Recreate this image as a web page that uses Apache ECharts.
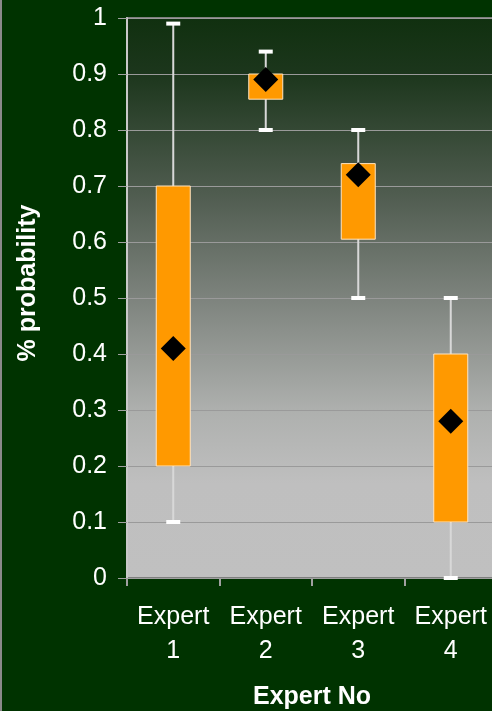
<!DOCTYPE html>
<html>
<head>
<meta charset="utf-8">
<script src="https://cdn.jsdelivr.net/npm/echarts@6/dist/echarts.min.js"></script>
<style>
  html, body { margin: 0; padding: 0; background: #003300; }
  #chart { width: 492px; height: 711px; }
</style>
</head>
<body>
<div id="chart"></div>
<script>
// Expert elicitation summary: whisker range, box range and mean per expert
const experts = ['Expert\n1', 'Expert\n2', 'Expert\n3', 'Expert\n4'];
const whiskerLow  = [0.10, 0.80, 0.50, 0.00];
const whiskerHigh = [0.99, 0.94, 0.80, 0.50];
const boxLow      = [0.20, 0.855, 0.605, 0.10];
const boxHigh     = [0.70, 0.90, 0.74, 0.40];
const meanValue   = [0.41, 0.89, 0.72, 0.28];

const rangeData = experts.map((_, i) => [i, whiskerLow[i], whiskerHigh[i], boxLow[i], boxHigh[i]]);
const meanData = experts.map((_, i) => [i, meanValue[i]]);

const FONT = 'Liberation Sans, Arial, sans-serif';

const chart = echarts.init(document.getElementById('chart'), null, { renderer: 'canvas' });

const plotFill = new echarts.graphic.LinearGradient(0, 0, 0, 1, [
  { offset: 0.0,   color: '#10300f' },
  { offset: 0.1,   color: '#1c361c' },
  { offset: 0.325, color: '#525e52' },
  { offset: 0.5,   color: '#7d837d' },
  { offset: 0.7,   color: '#aeb0ae' },
  { offset: 0.83,  color: '#bfbfbf' },
  { offset: 1.0,   color: '#c0c0c0' }
]);

function renderRange(params, api) {
  const x = api.value(0);
  const pLow = api.coord([x, api.value(1)]);
  const pHigh = api.coord([x, api.value(2)]);
  const pBoxLow = api.coord([x, api.value(3)]);
  const pBoxHigh = api.coord([x, api.value(4)]);
  const cx = pLow[0];
  const boxW = 34;
  const capW = 14;
  return {
    type: 'group',
    children: [
      {
        type: 'line',
        shape: { x1: cx, y1: pLow[1], x2: cx, y2: pHigh[1] },
        style: { stroke: '#d8d8d8', lineWidth: 2 }
      },
      {
        type: 'rect',
        shape: { x: cx - capW / 2, y: pHigh[1] - 2, width: capW, height: 4 },
        style: { fill: '#ffffff' }
      },
      {
        type: 'rect',
        shape: { x: cx - capW / 2, y: pLow[1] - 2, width: capW, height: 4 },
        style: { fill: '#ffffff' }
      },
      {
        type: 'rect',
        shape: { x: cx - boxW / 2, y: pBoxHigh[1], width: boxW, height: pBoxLow[1] - pBoxHigh[1] },
        style: { fill: '#ff9900', stroke: '#ffe4c0', lineWidth: 1 }
      }
    ]
  };
}

chart.setOption({
  backgroundColor: '#003300',
  animation: false,
  textStyle: { fontFamily: FONT },
  graphic: [
    {
      type: 'rect',
      left: 0, top: 0,
      shape: { width: 2, height: 711 },
      style: { fill: '#8a8a8a' }
    }
  ],
  grid: {
    left: 127,
    top: 18,
    width: 370,
    height: 560,
    outerBoundsMode: 'none',
    containLabel: false,
    show: true,
    backgroundColor: plotFill,
    borderColor: '#7f7f7f',
    borderWidth: 2
  },
  xAxis: {
    type: 'category',
    data: experts,
    boundaryGap: true,
    name: 'Expert No',
    nameLocation: 'middle',
    nameGap: 107,
    nameTextStyle: { color: '#ffffff', fontSize: 25, fontWeight: 'bold', fontFamily: FONT },
    axisLine: { show: true, lineStyle: { color: '#a0a0a0', width: 1 } },
    axisTick: { show: true, length: 8, lineStyle: { color: '#a0a0a0', width: 2 } },
    axisLabel: {
      color: '#ffffff',
      fontSize: 25,
      lineHeight: 34,
      margin: 22,
      interval: 0,
      fontFamily: FONT
    },
    splitLine: { show: false }
  },
  yAxis: {
    type: 'value',
    min: 0,
    max: 1,
    interval: 0.1,
    name: '% probability',
    nameLocation: 'middle',
    nameGap: 86,
    nameTextStyle: {
      color: '#ffffff', fontSize: 25, fontWeight: 'bold', fontFamily: FONT,
      padding: [0, 0, 0, 30]
    },
    axisLine: { show: true, lineStyle: { color: '#c8c8c8', width: 2 } },
    axisTick: { show: true, length: 9, lineStyle: { color: '#a0a0a0', width: 1 } },
    axisLabel: {
      color: '#ffffff',
      fontSize: 25,
      margin: 20,
      fontFamily: FONT,
      formatter: v => String(Math.round(v * 10) / 10)
    },
    splitLine: { show: true, lineStyle: { color: '#9a9a9a', width: 1 } }
  },
  series: [
    {
      type: 'custom',
      renderItem: renderRange,
      data: rangeData,
      encode: { x: 0, y: [1, 2, 3, 4] },
      z: 2
    },
    {
      type: 'scatter',
      data: meanData,
      symbol: 'diamond',
      symbolSize: [25, 25],
      itemStyle: { color: '#000000', opacity: 1 },
      z: 3
    }
  ]
});
</script>
</body>
</html>
